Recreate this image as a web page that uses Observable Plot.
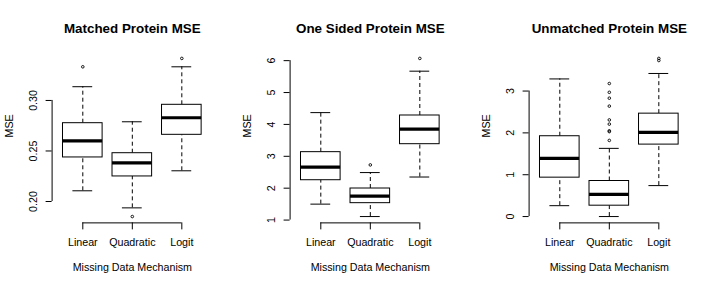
<!DOCTYPE html>
<html>
<head>
<meta charset="utf-8">
<script src="https://cdn.jsdelivr.net/npm/d3@7"></script>
<script src="https://cdn.jsdelivr.net/npm/@observablehq/plot@0.6"></script>
<style>
  html, body { margin: 0; padding: 0; background: #fff; }
  #wrap { position: relative; width: 715px; height: 287px; overflow: hidden; }
  .panel { position: absolute; top: 0; }
</style>
</head>
<body>
<div id="wrap"></div>
<script>
// ---- Data ----
const categories = ["Linear", "Quadratic", "Logit"];
const xAxisTitle = "Missing Data Mechanism";
const yAxisTitle = "MSE";

const titles = ["Matched Protein MSE", "One Sided Protein MSE", "Unmatched Protein MSE"];

// box statistics per category: [lower whisker, Q1, median, Q3, upper whisker]
const matchedStats = [
  [0.2106, 0.2436, 0.2600, 0.2775, 0.3136],
  [0.1937, 0.2248, 0.2383, 0.2478, 0.2789],
  [0.2304, 0.2660, 0.2829, 0.2957, 0.3333]
];
const matchedOutliers = [
  ["Linear", 0.3333],
  ["Quadratic", 0.1851],
  ["Logit", 0.3416]
];
const matchedTicks = [0.20, 0.25, 0.30];

const oneSidedStats = [
  [1.50, 2.25, 2.66, 3.13, 4.37],
  [1.11, 1.53, 1.75, 1.99, 2.49],
  [2.35, 3.38, 3.85, 4.28, 5.67]
];
const oneSidedOutliers = [
  ["Quadratic", 2.73],
  ["Logit", 6.07]
];
const oneSidedTicks = [1, 2, 3, 4, 5, 6];

const unmatchedStats = [
  [0.26, 0.93, 1.39, 1.92, 3.29],
  [0.00, 0.26, 0.53, 0.85, 1.63],
  [0.74, 1.72, 2.01, 2.46, 3.42]
];
const unmatchedOutliers = [
  ["Quadratic", 3.18], ["Quadratic", 2.97], ["Quadratic", 2.83], ["Quadratic", 2.64],
  ["Quadratic", 2.31], ["Quadratic", 2.21], ["Quadratic", 2.05], ["Quadratic", 2.03],
  ["Quadratic", 1.82],
  ["Logit", 3.78], ["Logit", 3.73]
];
const unmatchedTicks = [0, 1, 2, 3];

const panels = [
  {title: titles[0], stats: matchedStats, outliers: matchedOutliers, ticks: matchedTicks, fmt: d3.format(".2f")},
  {title: titles[1], stats: oneSidedStats, outliers: oneSidedOutliers, ticks: oneSidedTicks, fmt: d3.format("d")},
  {title: titles[2], stats: unmatchedStats, outliers: unmatchedOutliers, ticks: unmatchedTicks, fmt: d3.format("d")}
];

// ---- Layout (mimics R base graphics, par(mfrow=c(1,3))) ----
const W = 715 / 3, H = 287;
const mL = 51.6, mR = 26.3, mT = 51.6, mB = 64.6;
const X0 = 0.38, X1 = 3.62; // R: xlim c(0.5, 3.5) extended 4%
const FONT = "'Liberation Sans', Arial, sans-serif";

const wrap = document.getElementById("wrap");

panels.forEach((p, k) => {
  const rows = p.stats.map((s, i) => ({
    cat: categories[i], i: i + 1,
    lo: s[0], q1: s[1], med: s[2], q3: s[3], hi: s[4]
  }));
  const outs = p.outliers.map(([c, v]) => ({i: categories.indexOf(c) + 1, v}));
  const all = rows.flatMap(r => [r.lo, r.hi]).concat(outs.map(o => o.v));
  const [mn, mx] = d3.extent(all);
  const pad = (mx - mn) * 0.04;
  const y0 = mn - pad, y1 = mx + pad;

  const chart = Plot.plot({
    width: W, height: H,
    marginLeft: mL, marginRight: mR, marginTop: mT, marginBottom: mB,
    style: {fontFamily: FONT, fontSize: "10.7px", color: "black", background: "white", overflow: "visible"},
    x: {domain: [X0, X1], axis: null},
    y: {domain: [y0, y1], axis: null},
    marks: [
      // whiskers (dashed)
      Plot.ruleX(rows, {x: "i", y1: "q3", y2: "hi", stroke: "black", strokeWidth: 1, strokeDasharray: "4,3"}),
      Plot.ruleX(rows, {x: "i", y1: "lo", y2: "q1", stroke: "black", strokeWidth: 1, strokeDasharray: "4,3"}),
      // staples
      Plot.ruleY(rows, {y: "hi", x1: d => d.i - 0.2, x2: d => d.i + 0.2, stroke: "black", strokeWidth: 1}),
      Plot.ruleY(rows, {y: "lo", x1: d => d.i - 0.2, x2: d => d.i + 0.2, stroke: "black", strokeWidth: 1}),
      // boxes
      Plot.rect(rows, {x1: d => d.i - 0.4, x2: d => d.i + 0.4, y1: "q1", y2: "q3", fill: "white", stroke: "black", strokeWidth: 1}),
      // medians
      Plot.ruleY(rows, {y: "med", x1: d => d.i - 0.4, x2: d => d.i + 0.4, stroke: "black", strokeWidth: 3.2}),
      // outliers
      Plot.dot(outs, {x: "i", y: "v", r: 1.3, stroke: "black", strokeWidth: 0.9, fill: "none"}),
      // y axis line (spans tick range, like R)
      Plot.ruleX([0], {x: () => X0, y1: () => p.ticks[0], y2: () => p.ticks[p.ticks.length - 1], stroke: "black"}),
      // y ticks
      Plot.ruleY(p.ticks, {y: d => d, x1: () => X0, x2: () => X0, insetLeft: -6, stroke: "black"}),
      // y tick labels (parallel to axis)
      Plot.text(p.ticks, {x: () => X0, y: d => d, text: d => p.fmt(d), rotate: -90, dx: -19,
        textAnchor: "middle", lineAnchor: "middle", fill: "black", fontSize: 10.7}),
      // x axis line from first to last category
      Plot.ruleY([0], {y: () => y0, x1: () => 1, x2: () => 3, stroke: "black"}),
      // x ticks
      Plot.ruleX([1, 2, 3], {x: d => d, y1: () => y0, y2: () => y0, insetBottom: -7, stroke: "black"}),
      // x tick labels
      Plot.text(rows, {x: "i", y: () => y0, text: "cat", dy: 19.3, lineAnchor: "middle", fill: "black", fontSize: 10.7}),
      // x axis title
      Plot.text([xAxisTitle], {frameAnchor: "bottom", dy: 44.2, text: d => d, lineAnchor: "middle", fill: "black", fontSize: 10.7}),
      // y axis title
      Plot.text([yAxisTitle], {frameAnchor: "left", dx: -42.1, text: d => d, rotate: -90, lineAnchor: "middle", fill: "black", fontSize: 10.7}),
      // panel title
      Plot.text([p.title], {frameAnchor: "top", dy: -23.5, text: d => d, lineAnchor: "middle", fill: "black", fontSize: 13.4, fontWeight: "bold"})
    ]
  });
  const div = document.createElement("div");
  div.className = "panel";
  div.style.left = (k * W) + "px";
  div.appendChild(chart);
  wrap.appendChild(div);
});
</script>
</body>
</html>
